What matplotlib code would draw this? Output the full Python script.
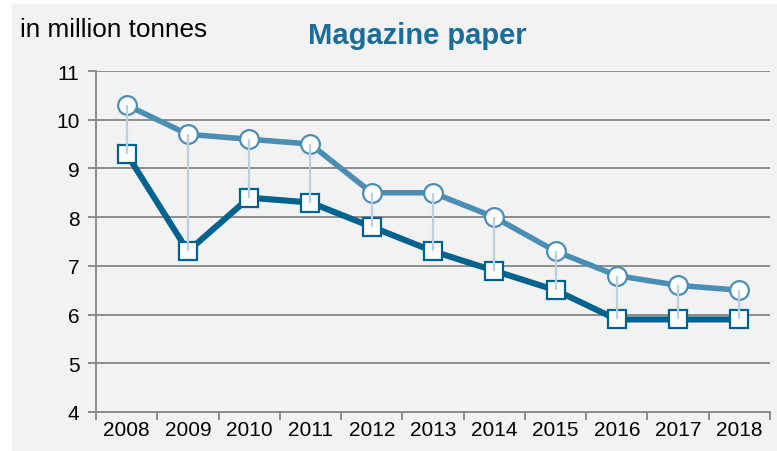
import matplotlib.pyplot as plt
from matplotlib.patches import Rectangle

years = ['2008', '2009', '2010', '2011', '2012', '2013', '2014', '2015', '2016', '2017', '2018']
upper = [10.3, 9.7, 9.6, 9.5, 8.5, 8.5, 8.0, 7.3, 6.8, 6.6, 6.5]
lower = [9.3, 7.3, 8.4, 8.3, 7.8, 7.3, 6.9, 6.5, 5.9, 5.9, 5.9]

plt.rcParams['font.family'] = ['Liberation Sans', 'DejaVu Sans']

bg = '#f2f2f2'
c_up = '#4a8db5'
c_lo = '#00628f'
grid_c = '#8c8c8c'

fig = plt.figure(figsize=(7.77, 4.52), dpi=100)
fig.patches.append(Rectangle((12 / 777, 0), 1, 1 - 5 / 452, transform=fig.transFigure,
                             facecolor=bg, edgecolor='none', zorder=-10))
ax = fig.add_axes([96 / 777, 1 - 413 / 452, (770 - 96) / 777, (413 - 72) / 452])
ax.set_facecolor(bg)

x = list(range(len(years)))
ax.vlines(x, lower, upper, color='#b9d0e3', lw=1.6, zorder=5)
ax.plot(x, upper, color=c_up, lw=4.0, marker='o', ms=13.5, mfc='white',
        mec=c_up, mew=1.6, zorder=3)
ax.plot(x, lower, color=c_lo, lw=4.4, marker='s', ms=13, mfc='white',
        mec=c_lo, mew=1.6, zorder=4)

ax.set_xlim(-0.5, len(years) - 0.5)
ax.set_ylim(4, 11)
ax.set_yticks(range(4, 12))
ax.yaxis.grid(True, color=grid_c, lw=1.4)
ax.set_axisbelow(True)

ax.set_xticks([i - 0.5 for i in range(len(years) + 1)])
ax.set_xticklabels([])
ax.set_xticks(x, minor=True)
ax.set_xticklabels(years, minor=True)
ax.tick_params(axis='x', which='minor', length=0, pad=6, labelsize=15)
ax.tick_params(axis='x', which='major', length=6, color=grid_c, width=1.4)
ax.tick_params(axis='y', length=6, color=grid_c, width=1.4, labelsize=15, pad=6)

for s in ['top', 'right']:
    ax.spines[s].set_visible(False)
for s in ['left', 'bottom']:
    ax.spines[s].set_color(grid_c)
    ax.spines[s].set_linewidth(1.4)

fig.text(20 / 777, 1 - 30 / 452, 'in million tonnes', fontsize=18.8, va='center', ha='left')
fig.text(417 / 777, 1 - 36 / 452, 'Magazine paper', fontsize=21, fontweight='bold',
         color='#1a6d99', va='center', ha='center')

fig.savefig('out.png', dpi=100, facecolor='white')
